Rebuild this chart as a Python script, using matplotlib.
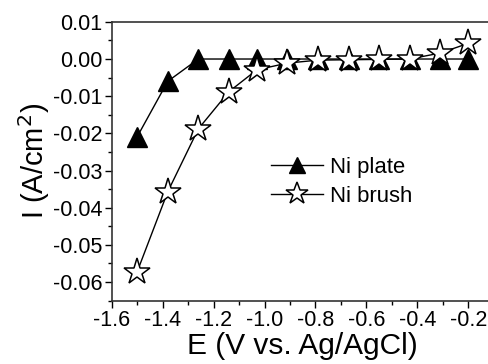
import numpy as np
import matplotlib
matplotlib.use("Agg")
import matplotlib.pyplot as plt
from matplotlib.ticker import MultipleLocator

# potential (V vs. Ag/AgCl)
E = [-1.50, -1.38, -1.26, -1.14, -1.03, -0.91, -0.79, -0.67, -0.55, -0.43, -0.31, -0.20]
# current density (A/cm2)
I_plate = [-0.0209, -0.0060, 0.0000, 0.0000, 0.0000, 0.0000, 0.0000, 0.0000, 0.0000, 0.0000, 0.0000, 0.0000]
I_brush = [-0.0572, -0.0357, -0.0188, -0.0088, -0.0029, -0.0011, -0.0003, -0.0002, -0.0001, 0.0000, 0.0016, 0.0042]

x_ticks = [-1.6, -1.4, -1.2, -1.0, -0.8, -0.6, -0.4, -0.2]
x_labels = ["-1.6", "-1.4", "-1.2", "-1.0", "-0.8", "-0.6", "-0.4", "-0.2"]
y_ticks = [-0.06, -0.05, -0.04, -0.03, -0.02, -0.01, 0.00, 0.01]
y_labels = ["-0.06", "-0.05", "-0.04", "-0.03", "-0.02", "-0.01", "0.00", "0.01"]

plt.rcParams["font.family"] = ["Liberation Sans", "DejaVu Sans"]

fig = plt.figure(figsize=(4.88, 3.64), dpi=100)
ax = fig.add_axes([0.229, 0.174, 0.78, 0.766])

ax.plot(E, I_plate, color="k", lw=1.0, marker="^", ms=14, mfc="k", mec="k", label="Ni plate", zorder=3)
ax.plot(E, I_brush, color="k", lw=1.0, marker="*", ms=19.5, mfc="white", mec="k", mew=1.1, label="Ni brush", zorder=4)

ax.set_xlim(-1.6, -0.105)
ax.set_ylim(-0.065, 0.01)
ax.set_xticks(x_ticks)
ax.set_xticklabels(x_labels)
ax.set_yticks(y_ticks)
ax.set_yticklabels(y_labels)
ax.xaxis.set_minor_locator(MultipleLocator(0.1))
ax.yaxis.set_minor_locator(MultipleLocator(0.005))

ax.tick_params(which="major", direction="out", length=5, width=1, labelsize=15.5, pad=1.5)
ax.tick_params(which="minor", direction="out", length=3, width=1)
for s in ax.spines.values():
    s.set_linewidth(1.2)
    s.set_color("#333333")
ax.spines["right"].set_visible(False)

ax.set_xlabel("E (V vs. Ag/AgCl)", fontsize=21.5, labelpad=1)
ax.set_ylabel("I (A/cm$^2$)", fontsize=21, labelpad=1)

ax.legend(loc="upper left", bbox_to_anchor=(0.418, 0.515), frameon=False, fontsize=15.9,
          handlelength=2.35, handletextpad=0.35, labelspacing=0.35, borderpad=0, borderaxespad=0,
          markerscale=0.85)

fig.savefig("out.png", dpi=100)
